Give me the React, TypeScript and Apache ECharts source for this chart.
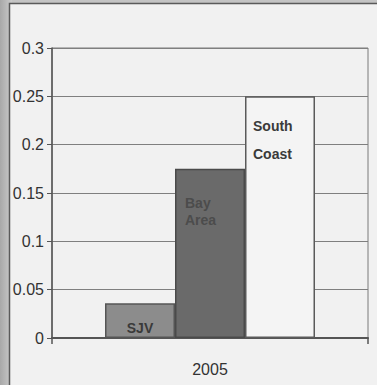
import React, { useEffect, useRef } from "react";
import * as echarts from "echarts";

const categories = ["2005"];
const seriesNames = ["SJV", "Bay Area", "South Coast"];
const sjvValues = [0.036];
const bayAreaValues = [0.175];
const southCoastValues = [0.25];
const yTicks = { min: 0, max: 0.3, interval: 0.05 };

export default function App() {
  const ref = useRef<HTMLDivElement>(null);
  useEffect(() => {
    if (!ref.current) return;
    const chart = echarts.init(ref.current, null, { renderer: "svg" });
    const axisFont = "'Liberation Sans', Arial, sans-serif";
    const bold = "'Liberation Sans', Arial, sans-serif";
    chart.setOption({
      animation: false,
      backgroundColor: "#c4c4c4",
      graphic: [
        {
          type: "rect",
          z: -10,
          silent: true,
          shape: { x: 0, y: 0, width: 12, height: 385 },
          style: {
            fill: new echarts.graphic.LinearGradient(0, 0, 1, 0, [
              { offset: 0, color: "#a8a8a8" },
              { offset: 1, color: "#cbcbcb" },
            ]),
          },
        },
        {
          type: "rect",
          z: -9,
          silent: true,
          shape: { x: 9.5, y: 3.5, width: 400, height: 400 },
          style: { fill: "#f1f1f1", stroke: "#5a5a5a", lineWidth: 1.5 },
        },
      ],
      grid: {
        left: 52,
        right: 9,
        top: 48,
        bottom: 47,
        show: true,
        borderColor: "#7a7a7a",
        borderWidth: 1,
        backgroundColor: "transparent",
      },
      xAxis: {
        type: "category",
        data: categories,
        boundaryGap: true,
        axisLine: { show: true, lineStyle: { color: "#555", width: 2 } },
        axisTick: { show: true, length: 6, lineStyle: { color: "#555", width: 1.5 } },
        axisLabel: { fontFamily: axisFont, fontSize: 16, color: "#333", margin: 23 },
      },
      yAxis: {
        type: "value",
        min: yTicks.min,
        max: yTicks.max,
        interval: yTicks.interval,
        axisLine: { show: true, lineStyle: { color: "#555", width: 1.5 } },
        axisTick: { show: true, length: 5, lineStyle: { color: "#555" } },
        axisLabel: { fontFamily: axisFont, fontSize: 16, color: "#333", margin: 8 },
        splitLine: { show: true, lineStyle: { color: "#7f7f7f", width: 1 } },
      },
      series: [
        {
          name: seriesNames[0],
          type: "bar",
          data: sjvValues,
          barWidth: 70,
          barGap: "0%",
          itemStyle: { color: "#8c8c8c", borderColor: "#555", borderWidth: 1.5 },
          label: {
            show: true,
            position: "insideBottom",
            distance: 3,
            formatter: "SJV",
            fontFamily: bold,
            fontWeight: "bold",
            fontSize: 14,
            color: "#3a3a3a",
          },
        },
        {
          name: seriesNames[1],
          type: "bar",
          data: bayAreaValues,
          barWidth: 70,
          barGap: "0%",
          itemStyle: { color: "#6a6a6a", borderColor: "#4a4a4a", borderWidth: 1.5 },
          label: {
            show: true,
            position: [10, 26],
            formatter: "Bay\nArea",
            fontFamily: bold,
            fontWeight: "bold",
            fontSize: 14,
            lineHeight: 17,
            align: "left",
            verticalAlign: "top",
            color: "#4c4c4c",
          },
        },
        {
          name: seriesNames[2],
          type: "bar",
          data: southCoastValues,
          barWidth: 70,
          barGap: "0%",
          itemStyle: { color: "#f4f4f4", borderColor: "#5a5a5a", borderWidth: 1.5 },
          label: {
            show: true,
            position: [8, 16],
            formatter: "South\nCoast",
            fontFamily: bold,
            fontWeight: "bold",
            fontSize: 14,
            lineHeight: 28,
            align: "left",
            verticalAlign: "top",
            color: "#3a3a3a",
          },
        },
      ],
    });
    return () => chart.dispose();
  }, []);
  return (
    <div
      ref={ref}
      style={{ position: "fixed", left: 0, top: 0, width: 377, height: 385 }}
    />
  );
}
